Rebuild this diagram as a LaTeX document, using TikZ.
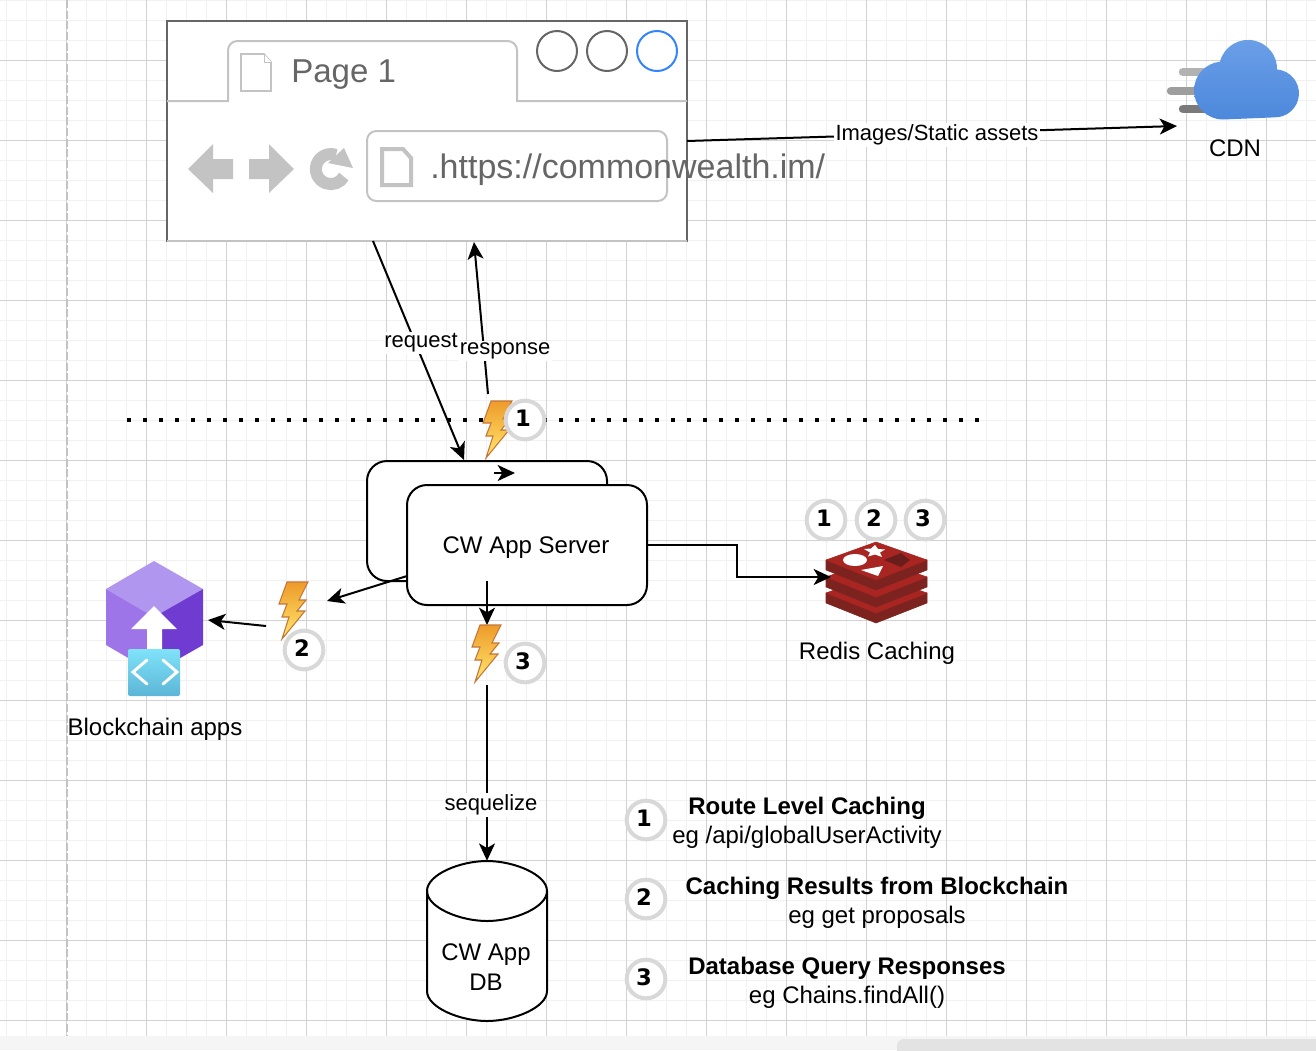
\documentclass[tikz,border=0pt]{standalone}
\usepackage{fontspec}
\setmainfont{Liberation Sans}
\newfontfamily\badgefont{DejaVu Sans}
\usetikzlibrary{arrows.meta}

\definecolor{gridmajor}{HTML}{D2D2D2}
\definecolor{gridminor}{HTML}{F1F1F1}
\definecolor{browserline}{HTML}{666666}
\definecolor{browserpale}{HTML}{C3C3C3}
\definecolor{badgering}{HTML}{D8D8D8}
\definecolor{redistop}{HTML}{A82521}
\definecolor{redisside}{HTML}{7C2320}
\definecolor{cloudtop}{HTML}{6C9FE8}
\definecolor{cloudlow}{HTML}{4C88DB}
\definecolor{cubetop}{HTML}{B196F0}
\definecolor{cubeleft}{HTML}{9D75E8}
\definecolor{cuberight}{HTML}{6F3BD0}
\definecolor{tiletop}{HTML}{7FE3FA}
\definecolor{tilelow}{HTML}{5CB5D6}
\definecolor{bolttop}{HTML}{EE9B2A}
\definecolor{boltlow}{HTML}{FFE96E}
\definecolor{boltline}{HTML}{C4763A}

\newcommand{\mrkdigit}[1]{\raisebox{3pt}{\hspace{-3pt}#1}}

\tikzset{
	lbl/.style={font=\fontsize{18}{22}\selectfont, inner sep=1pt, align=center},
	lblfill/.style={font=\fontsize{16.5}{20}\selectfont, inner sep=1pt, fill=white},
	conn/.style={line width=1.5pt, -{Stealth[length=13pt,width=12pt,inset=3.5pt]}},
	badge/.style={circle, draw=badgering, line width=3pt, fill=white, minimum size=29pt, inner sep=0pt, font=\badgefont\bfseries\fontsize{17}{20}\selectfont},
	srvbox/.style={draw, fill=white, line width=1.5pt, rounded corners=15pt, minimum width=180pt, minimum height=90pt},
	pageicon/.style={draw=browserpale, fill=white},
	boltpic/.pic={
		\draw[draw=boltline, line width=.8pt, top color=bolttop, bottom color=boltlow]
			(8,0) -- (0,22) -- (8,22) -- (3,35) -- (10,35) -- (3,57) -- (26,29) -- (18,29) -- (27,18) -- (20,18) -- (29,0) -- cycle;
	}
}

\begin{document}
\begin{tikzpicture}[x=0.75pt, y=-0.75pt]
	\useasboundingbox (0,0) rectangle (1316,1050);
	\fill[white] (0,0) rectangle (1316,1050);

	% grid
	\foreach \gx in {6.5,26.5,...,1316}{
		\draw[gridminor, line width=.75pt] (\gx,0) -- (\gx,1036);
	}
	\foreach \gy in {0,20,...,1036}{
		\draw[gridminor, line width=.75pt] (0,\gy) -- (1316,\gy);
	}
	\foreach \gx in {66.5,146.5,...,1316}{
		\draw[gridmajor, line width=.75pt] (\gx,0) -- (\gx,1036);
	}
	\foreach \gy in {60,140,...,1020}{
		\draw[gridmajor, line width=.75pt] (0,\gy) -- (1316,\gy);
	}
	\draw[browserpale, line width=1.2pt, dash pattern=on 6pt off 2pt] (67,0) -- (67,1036);
	\fill[black!4] (0,1036) rectangle (1316,1050);
	\fill[black!11, rounded corners=5pt] (897,1039) rectangle (1330,1060);

	% boundary
	\draw[line width=3pt, dash pattern=on 3pt off 9pt] (127,420) -- (980,420);

	% browser window
	\node[draw=browserline, fill=white, line width=1.5pt, minimum width=390pt, minimum height=165pt, inner sep=0pt, outer sep=0pt] (browser) at (427,131) {};
	\draw[browserpale, line width=2pt] (browser.south west) -- (browser.south east);
	\draw[browserpale, line width=1.5pt] (167,101) -- (228,101) [rounded corners=7pt] -- (228,41) -- (517,41) [sharp corners] -- (517,101) -- (687,101);
	\draw[pageicon, line width=1.2pt] (241,54) -- (264,54) -- (271,62) -- (271,91) -- (241,91) -- cycle;
	\draw[pageicon, line width=.75pt] (264,54) -- (264,62) -- (271,62);
	\node[anchor=west, inner sep=0pt, text=browserline, font=\fontsize{24.8}{30}\selectfont] (pagetitle) at (291,75) {Page 1};
	\node[circle, draw=browserline, line width=1.5pt, minimum size=30pt, inner sep=0pt] (btnone) at (557,51) {};
	\node[circle, draw=browserline, line width=1.5pt, minimum size=30pt, inner sep=0pt] (btntwo) at (607,51) {};
	\node[circle, draw=blue!60!cyan!80!white, line width=1.5pt, minimum size=30pt, inner sep=0pt] (btnthree) at (657,51) {};
	\fill[browserpale] (188,169) -- (213,144) -- (213,159) -- (233,159) -- (233,179) -- (213,179) -- (213,193) -- cycle;
	\fill[browserpale] (294,169) -- (269,144) -- (269,159) -- (249,159) -- (249,179) -- (269,179) -- (269,193) -- cycle;
	\draw[browserpale, line width=9pt] (336,155) arc[start angle=290, end angle=30, radius=15];
	\fill[browserpale] (344,148) -- (353,168) -- (328,163) -- cycle;
	\node[draw=browserpale, line width=1.5pt, rounded corners=7pt, minimum width=225pt, minimum height=52.5pt, inner sep=0pt] (urlbar) at (517,166) {};
	\draw[pageicon, line width=3pt] (382,149) -- (403,149) -- (411,158) -- (411,185) -- (382,185) -- cycle;
	\node[anchor=west, inner sep=0pt, text=browserline, font=\fontsize{25.5}{30}\selectfont] (urltext) at (430,170) {.https://commonwealth.im/};

	% cdn
	\draw[black!30, line width=6.4pt, line cap=round] (1183,72) -- (1220,72);
	\draw[black!38, line width=6.4pt, line cap=round] (1171,91) -- (1220,91);
	\draw[black!52, line width=6.4pt, line cap=round] (1183,109) -- (1220,109);
	\shade[top color=cloudtop, bottom color=cloudlow] (1223,119.5)
		arc[start angle=90, end angle=264, radius=29]
		arc[start angle=194.5, end angle=361, radius=29]
		arc[start angle=275, end angle=450, radius=24] -- cycle;
	\node[lbl] (cdn) at (1235,148) {CDN};

	% app servers
	\node[srvbox] (srvback) at (487,521) {};
	\coordinate (tickfrom) at (494,473);
	\coordinate (tickto) at (515,473);
	\draw[conn] (tickfrom) -- (tickto);
	\node[srvbox] (srvfront) at (527,545) {};
	\node[lbl] (srvname) at (526,548) {CW App Server};

	% blockchain apps
	\fill[cubetop] (154,561) -- (203,589) -- (154,617) -- (106,589) -- cycle;
	\fill[cubeleft] (106,589) -- (154,617) -- (154,673) -- (106,645) -- cycle;
	\fill[cuberight] (203,589) -- (154,617) -- (154,673) -- (203,645) -- cycle;
	\fill[white] (154,606) -- (177,629) -- (162,629) -- (162,650) -- (147,650) -- (147,629) -- (131,629) -- cycle;
	\shade[top color=tiletop, bottom color=tilelow, rounded corners=1.5pt] (128,649) rectangle (180,696);
	\draw[white, line width=2.2pt, line cap=round] (147,660) -- (133,672) -- (147,684);
	\draw[white, line width=2.2pt, line cap=round] (163,660) -- (177,672) -- (163,684);
	\node[lbl] (chainapps) at (155,729) {Blockchain apps};

	% redis
	\foreach \o in {33,17,0}{
		\filldraw[redisside, line width=.4pt, line join=round] (826,{560+\o}) -- (927,{560+\o}) -- (927,{570+\o}) -- (876,{590+\o}) -- (826,{570+\o}) -- cycle;
		\filldraw[redistop, line width=.4pt, line join=round] (876,{542+\o}) -- (927,{560+\o}) -- (876,{580+\o}) -- (826,{560+\o}) -- cycle;
	}
	\fill[white] (875,545) -- (878,549) -- (885,549.5) -- (880,552.5) -- (882,557) -- (875,554.5) -- (868,556.5) -- (870,552.5) -- (864,549) -- (871,548.5) -- cycle;
	\fill[white] (855,560) ellipse[x radius=12, y radius=6];
	\fill[white] (861,570) -- (883,566) -- (878,576) -- cycle;
	\fill[redisside!85!black] (884,560) -- (901,553) -- (910,560) -- (901,567) -- cycle;
	\node[lbl] (rediscap) at (877,653) {Redis Caching};

	% database
	\draw[fill=white, line width=1.5pt] (427,891) .. controls (427,874.5) and (460,861) .. (487,861) .. controls (514,861) and (547,874.5) .. (547,891) -- (547,991) .. controls (547,1007.5) and (514,1021) .. (487,1021) .. controls (460,1021) and (427,1007.5) .. (427,991) -- cycle;
	\draw[line width=1.5pt] (427,891) .. controls (427,907.5) and (460,921) .. (487,921) .. controls (514,921) and (547,907.5) .. (547,891);
	\node[lbl, minimum width=90pt, minimum height=120pt, inner sep=0pt] (appdb) at (487,941) {};
	\node[lbl] (dbname) at (486,967) {CW App\\DB};

	% connectors
	\coordinate (reqfrom) at (373,241);
	\coordinate (reqto) at (464,460);
	\coordinate (respfrom) at (488,394);
	\coordinate (respto) at (474,242);
	\coordinate (imgfrom) at (687,141);
	\coordinate (imgto) at (1177,126);
	\coordinate (chainfrom) at (407,576);
	\coordinate (chainto) at (327,601);
	\coordinate (boltfrom) at (266,626);
	\coordinate (boltto) at (208,620);
	\coordinate (downfrom) at (487,581);
	\coordinate (downto) at (487,625);
	\coordinate (seqfrom) at (487,685);
	\coordinate (redisto) at (831,577);
	\draw[conn] (reqfrom) -- (reqto);
	\draw[conn] (respfrom) -- (respto);
	\draw[conn] (imgfrom) -- (imgto);
	\draw[conn] (chainfrom) -- (chainto);
	\draw[conn] (boltfrom) -- (boltto);
	\draw[conn] (downfrom) -- (downto);
	\draw[conn] (seqfrom) -- (appdb.north);
	\draw[conn] (srvfront.east) -- (737,545) -- (737,577) -- (redisto);
	\node[lblfill] (lblreq) at (421,343) {request};
	\node[lblfill] (lblresp) at (505,351) {response};
	\node[lblfill] (lblimg) at (937,135) {Images/Static assets};
	\node[lblfill] (lblseq) at (491,805) {sequelize};

	% bolts
	\pic (boltone) at (483,401) {boltpic};
	\pic (bolttwo) at (279,582) {boltpic};
	\pic (boltthree) at (472,625) {boltpic};

	% badges
	\node[badge] (mrkone) at (525,420) {\mrkdigit{1}};
	\node[badge] (mrktwo) at (304,650) {\mrkdigit{2}};
	\node[badge] (mrkthree) at (525,663) {\mrkdigit{3}};
	\node[badge] (redisone) at (826,520) {\mrkdigit{1}};
	\node[badge] (redistwo) at (876,520) {\mrkdigit{2}};
	\node[badge] (redisthree) at (925,520) {\mrkdigit{3}};
	\node[badge] (keyone) at (646,820) {\mrkdigit{1}};
	\node[badge] (keytwo) at (646,899) {\mrkdigit{2}};
	\node[badge] (keythree) at (646,979) {\mrkdigit{3}};

	% legend
	\node[lbl] (keyonetxt) at (807,823) {\textbf{Route Level Caching}\\eg /api/globalUserActivity};
	\node[lbl] (keytwotxt) at (877,903) {\textbf{Caching Results from Blockchain}\\eg get proposals};
	\node[lbl] (keythreetxt) at (847,983) {\textbf{Database Query Responses}\\eg Chains.findAll()};
\end{tikzpicture}
\end{document}
